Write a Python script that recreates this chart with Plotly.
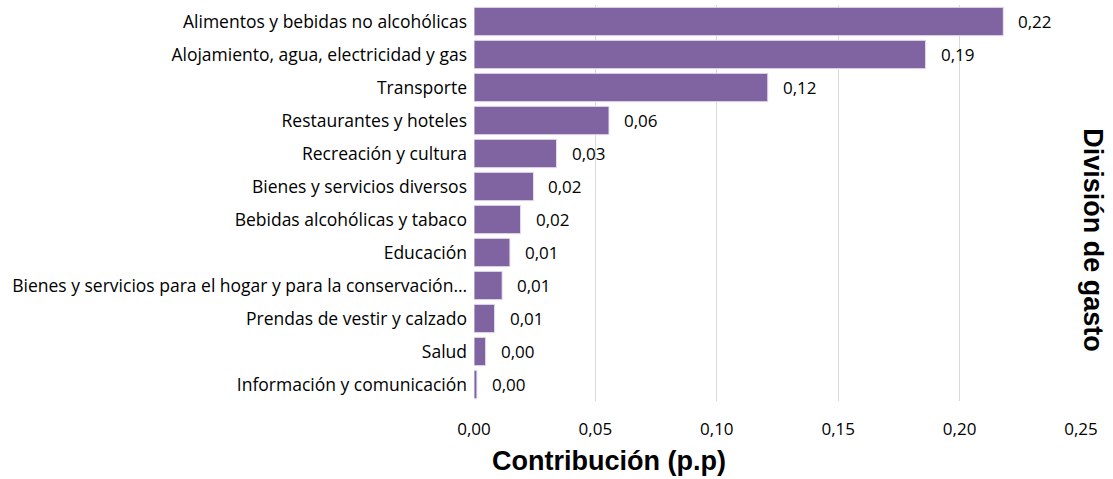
import plotly.graph_objects as go

categories = [
    "Alimentos y bebidas no alcohólicas",
    "Alojamiento, agua, electricidad y gas",
    "Transporte",
    "Restaurantes y hoteles",
    "Recreación y cultura",
    "Bienes y servicios diversos",
    "Bebidas alcohólicas y tabaco",
    "Educación",
    "Bienes y servicios para el hogar y para la conservación…",
    "Prendas de vestir y calzado",
    "Salud",
    "Información y comunicación",
]
values = [0.218, 0.186, 0.121, 0.0556, 0.034, 0.0245, 0.0192, 0.0148, 0.0116, 0.0085, 0.0048, 0.0012]
tick_vals = [0, 0.05, 0.10, 0.15, 0.20, 0.25]
tick_text = ["0,00", "0,05", "0,10", "0,15", "0,20", "0,25"]
labels = [f"{v:.2f}".replace(".", ",") for v in values]

FONT = "Open Sans"
FS = 17
TFONT = dict(family="Liberation Sans, Arial", size=27, color="#000")

fig = go.Figure()
fig.add_trace(go.Bar(
    x=values, y=categories, orientation="h",
    marker=dict(color="#8064A2", line=dict(color="#E6E0EC", width=1)),
    hoverinfo="skip",
))
for c, v, t in zip(categories, values, labels):
    fig.add_annotation(x=v, y=c, text=t, showarrow=False, xanchor="left",
                       xshift=13, font=dict(family=FONT, size=FS, color="#000"))

# vertical axis title (right side)
fig.add_annotation(xref="paper", yref="paper", x=1.0 + 12 / 607, y=0.406,
                   text="<b>División de gasto</b>",
                   textangle=90, showarrow=False, xanchor="center", yanchor="middle",
                   font=TFONT)
# horizontal axis title
fig.add_annotation(xref="paper", yref="paper", x=(609 - 474) / 607, y=0, yshift=-60,
                   text="<b>Contribución (p.p)</b>", showarrow=False,
                   xanchor="center", yanchor="middle", font=TFONT)

fig.update_layout(
    width=1113, height=479,
    margin=dict(l=474, r=32, t=5, b=78),
    plot_bgcolor="white", paper_bgcolor="white",
    bargap=0.14,
    showlegend=False,
    xaxis=dict(range=[0, 0.25], tickvals=tick_vals, ticktext=tick_text,
               showgrid=True, gridcolor="#D9D9D9", gridwidth=1, zeroline=False,
               showline=False, ticks="", ticklabelstandoff=16,
               tickfont=dict(family=FONT, size=FS, color="#000")),
    yaxis=dict(categoryorder="array", categoryarray=categories[::-1],
               showgrid=False, zeroline=False, showline=False, ticks="",
               ticklabelstandoff=6,
               tickfont=dict(family=FONT, size=17.5, color="#000")),
)
fig.write_html("out.html", post_script="document.body.style.margin='0';",
               config={"displayModeBar": False})
